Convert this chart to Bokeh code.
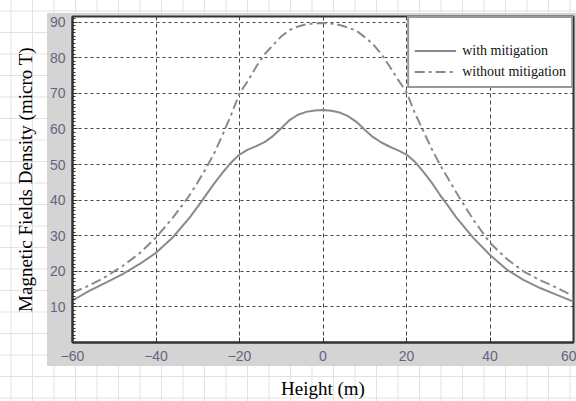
from bokeh.plotting import figure
from bokeh.models import FixedTicker, Legend, LegendItem
from bokeh.embed import file_html
from bokeh.resources import INLINE

# ---- data ----
height_m = [-60, -56, -52, -48, -44, -40, -36, -32, -30, -28, -26, -24, -22, -20, -18,
            -16, -14, -12, -10, -8, -6, -4, -2, 0, 2, 4, 6, 8, 10, 12, 14, 16, 18, 20,
            22, 24, 26, 28, 30, 32, 36, 40, 44, 48, 52, 56, 60]
with_mitigation = [11.8, 14.5, 16.8, 19.2, 22.0, 25.2, 29.5, 35.0, 38.2, 41.5, 44.8,
                   47.8, 50.6, 52.8, 54.2, 55.2, 56.3, 58.0, 60.2, 62.5, 64.0, 64.8,
                   65.2, 65.3, 65.1, 64.6, 63.6, 62.0, 59.8, 57.7, 56.2, 55.0, 54.0,
                   52.8, 50.8, 48.0, 45.0, 41.5, 38.3, 35.0, 29.4, 24.6, 20.5, 17.6,
                   15.3, 13.4, 11.5]
without_mitigation = [14.0, 16.0, 18.5, 21.5, 25.0, 29.5, 35.0, 41.3, 45.0, 49.0, 53.3,
                      58.5, 64.0, 70.0, 73.5, 77.5, 81.0, 83.5, 86.0, 87.8, 88.8, 89.4,
                      89.7, 89.8, 89.6, 89.2, 88.5, 87.6, 85.8, 83.8, 81.0, 77.5, 73.8,
                      70.3, 64.5, 59.5, 54.5, 50.0, 46.0, 42.0, 34.5, 28.0, 23.5, 20.0,
                      17.5, 15.4, 13.0]
x_ticks = [-60, -40, -20, 0, 20, 40, 60]
y_ticks = [10, 20, 30, 40, 50, 60, 70, 80, 90]

p = figure(width=576, height=401, x_range=(-60, 60), y_range=(0, 91.6),
           output_backend="svg", toolbar_location=None,
           min_border_left=72, min_border_right=3, min_border_top=16, min_border_bottom=58)

p.border_fill_color = None
p.background_fill_color = "white"
p.outline_line_color = "#333333"
p.outline_line_width = 2
p.styles = {
    "background":
        "linear-gradient(#d4d4d4,#d4d4d4) 47px 13px / 529px 353px no-repeat,"
        "linear-gradient(90deg, #e2e2e2 1px, transparent 1px) 10.5px 0 / 21.5px 21.5px,"
        "linear-gradient(180deg, #e2e2e2 1px, transparent 1px) 0 10.5px / 21.5px 21.5px,"
        "white"
}

r1 = p.line(height_m, with_mitigation, line_color="#8a8a8a", line_width=2)
r2 = p.line(height_m, without_mitigation, line_color="#8a8a8a", line_width=2,
            line_dash="10 4 3 4")

# axes
p.xaxis.ticker = FixedTicker(ticks=x_ticks)
p.yaxis.ticker = FixedTicker(ticks=y_ticks, minor_ticks=list(range(0, 92)))
for ax in (p.xaxis[0], p.yaxis[0]):
    ax.axis_line_color = "#333333"
    ax.axis_line_width = 2
    ax.major_tick_in = 5
    ax.major_tick_out = 0
    ax.major_tick_line_color = "#333333"
    ax.major_label_text_font = "Liberation Sans"
    ax.major_label_text_font_size = "14px"
    ax.major_label_text_color = "#6a6280"
    ax.axis_label_text_font = "Liberation Serif"
    ax.axis_label_text_font_size = "19px"
    ax.axis_label_text_font_style = "normal"
    ax.axis_label_text_color = "black"
p.xaxis.minor_tick_line_color = None
p.yaxis.minor_tick_in = 3
p.yaxis.minor_tick_out = 0
p.yaxis.minor_tick_line_color = "#333333"
p.xaxis.major_label_standoff = 8
p.yaxis.major_label_standoff = 7
p.xaxis.axis_label_standoff = 14
p.yaxis.axis_label_standoff = 11
p.xaxis.axis_label = "Height (m)"
p.yaxis.axis_label = "Magnetic Fields Density (micro T)"

# grid
p.ygrid.ticker = FixedTicker(ticks=y_ticks)
p.xgrid.ticker = FixedTicker(ticks=x_ticks)
p.ygrid.grid_line_color = "#444444"
p.ygrid.grid_line_dash = "3 3"
p.xgrid.grid_line_color = "#444444"
p.xgrid.grid_line_dash = "4 3"

# legend
legend = Legend(items=[LegendItem(label="with mitigation", renderers=[r1]),
                       LegendItem(label="without mitigation", renderers=[r2])],
                location="top_right")
legend.title = " "
legend.title_text_font_size = "14px"
legend.title_standoff = 2
legend.margin = 0
legend.padding = 5
legend.spacing = 2
legend.label_height = 19
legend.glyph_height = 19
legend.glyph_width = 42
legend.label_standoff = 6
legend.label_text_font = "Liberation Serif"
legend.label_text_font_size = "14px"
legend.label_text_color = "#111111"
legend.border_line_color = "#333333"
legend.border_line_width = 2
legend.background_fill_color = "white"
legend.background_fill_alpha = 1
p.add_layout(legend)

open("out.html", "w").write(file_html(p, INLINE))
